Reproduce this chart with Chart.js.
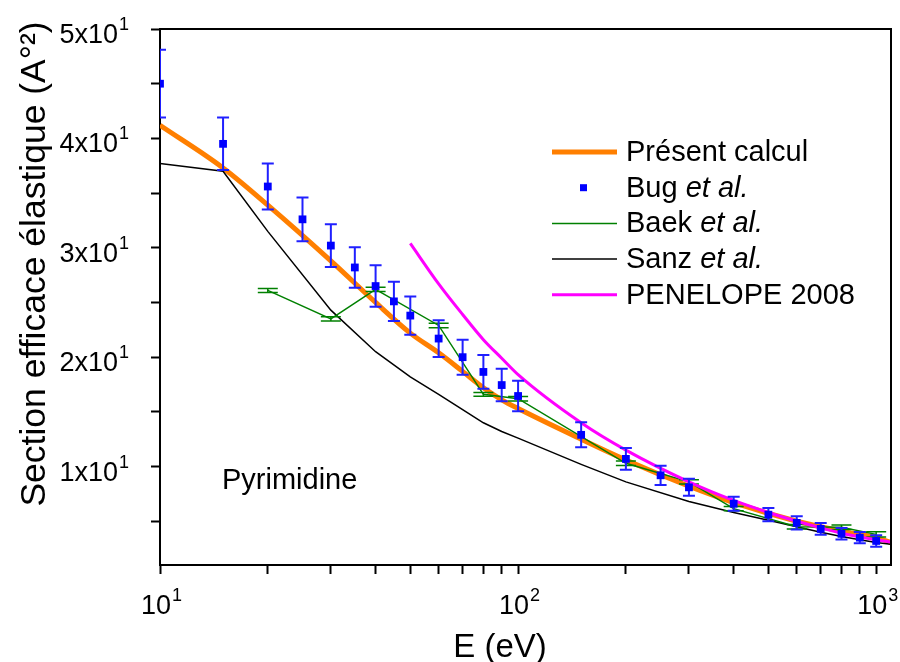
<!DOCTYPE html>
<html>
<head>
<meta charset="utf-8">
<script src="https://cdn.jsdelivr.net/npm/chart.js@4.4.0/dist/chart.umd.min.js"></script>
<style>
  html, body { margin: 0; padding: 0; background: #fff; }
</style>
</head>
<body>
<canvas id="chart" width="900" height="662"></canvas>
<script>
// Bug et al. (points with error bars)
const bugEnergy = [10, 15, 20, 25, 30, 35, 40, 45, 50, 60, 70, 80, 90, 100, 150, 200, 250, 300, 400, 500, 600, 700, 800, 900, 1000];
const bugValues = [45.0, 39.5, 35.6, 32.6, 30.2, 28.2, 26.5, 25.1, 23.8, 21.7, 20.0, 18.65, 17.45, 16.45, 12.9, 10.7, 9.2, 8.1, 6.6, 5.6, 4.85, 4.3, 3.85, 3.5, 3.2];
const bugErrors = [3.1, 2.4, 2.1, 2.0, 1.95, 1.85, 1.9, 1.8, 1.75, 1.68, 1.6, 1.54, 1.48, 1.4, 1.14, 1.0, 0.88, 0.78, 0.64, 0.61, 0.61, 0.53, 0.53, 0.52, 0.53];

// Baek et al.
const baekEnergy = [20, 30, 40, 60, 80, 100, 200, 300, 400, 600, 800, 1000];
const baekValues = [26.1, 23.5, 26.2, 22.9, 16.6, 16.2, 10.3, 8.6, 6.15, 4.5, 4.45, 3.8];
const baekErrors = [0.18, 0.2, 0.2, 0.21, 0.18, 0.2, 0.2, 0.2, 0.2, 0.2, 0.2, 0.25];

// Sanz et al.
const sanzEnergy = [10, 15, 20, 30, 40, 50, 60, 70, 80, 90, 100, 150, 200, 300, 400, 500, 600, 700, 800, 900, 1000, 1100];
const sanzValues = [37.7, 37.0, 31.5, 24.3, 20.5, 18.2, 16.6, 15.2, 14.0, 13.2, 12.6, 10.2, 8.6, 6.8, 5.8, 5.1, 4.5, 4.0, 3.6, 3.3, 3.05, 2.9];

// Présent calcul
const calcEnergy = [10, 15, 20, 30, 40, 50, 60, 70, 80, 90, 100, 150, 200, 300, 400, 600, 800, 1000, 1100];
const calcValues = [41.2, 37.3, 33.9, 28.8, 25.0, 22.2, 20.4, 18.7, 17.2, 16.1, 15.3, 12.5, 10.6, 8.2, 6.7, 5.0, 4.1, 3.5, 3.05];

// PENELOPE 2008
const penEnergy = [50, 60, 70, 80, 90, 100, 150, 200, 300, 400, 500, 600, 700, 800, 1000, 1100];
const penValues = [30.4, 26.7, 23.9, 21.6, 19.9, 18.4, 14.0, 11.5, 8.6, 6.9, 5.8, 5.0, 4.4, 3.9, 3.3, 3.1];

// axes
const xTickValues = [10, 20, 30, 40, 50, 60, 70, 80, 90, 100, 200, 300, 400, 500, 600, 700, 800, 900, 1000];
const xMajorTicks = [10, 100, 1000];
const xLabelBase = ['10', '10', '10'];
const xLabelSup = ['1', '2', '3'];
const yTickValues = [5, 10, 15, 20, 25, 30, 35, 40, 45, 50];
const yMajorTicks = [10, 20, 30, 40, 50];
const yLabelBase = ['1x10', '2x10', '3x10', '4x10', '5x10'];
const yLabelSup = ['1', '1', '1', '1', '1'];

const legendNames = ['Présent calcul', 'Bug ', 'Baek ', 'Sanz ', 'PENELOPE 2008'];
const legendItalic = ['', 'et al.', 'et al.', 'et al.', ''];

const FONT = "'Liberation Sans', Arial, Helvetica, sans-serif";

function toPoints(xs, ys) {
    return xs.map((x, i) => ({x: x, y: ys[i]}));
}

// vertical error bars with caps, drawn under the points of each dataset that has them
const errorBars = {
    id: 'errorBars',
    beforeDatasetDraw(chart, args) {
        const ds = chart.data.datasets[args.index];
        if (!ds.errors) return;
        const {ctx, chartArea, scales} = chart;
        ctx.save();
        ctx.beginPath();
        ctx.rect(chartArea.left, chartArea.top, chartArea.right - chartArea.left, chartArea.bottom - chartArea.top);
        ctx.clip();
        ctx.strokeStyle = ds.errorColor;
        ctx.lineWidth = ds.errorWidth;
        ds.data.forEach((p, i) => {
            const px = scales.x.getPixelForValue(p.x);
            const top = scales.y.getPixelForValue(p.y + ds.errors[i]);
            const bot = scales.y.getPixelForValue(p.y - ds.errors[i]);
            const w = ds.capWidth / 2;
            ctx.beginPath();
            ctx.moveTo(px, top); ctx.lineTo(px, bot);
            ctx.moveTo(px - w, top); ctx.lineTo(px + w, top);
            ctx.moveTo(px - w, bot); ctx.lineTo(px + w, bot);
            ctx.stroke();
        });
        ctx.restore();
    }
};

// base text followed by a raised, smaller exponent
function supText(ctx, base, sup, x, y, align) {
    ctx.font = '27px ' + FONT;
    const wb = ctx.measureText(base).width;
    ctx.font = '18px ' + FONT;
    const ws = ctx.measureText(sup).width;
    let x0 = x;
    if (align === 'center') x0 = x - (wb + ws) / 2;
    if (align === 'right') x0 = x - wb - ws;
    ctx.textAlign = 'left';
    ctx.font = '27px ' + FONT;
    ctx.fillText(base, x0, y);
    ctx.font = '18px ' + FONT;
    ctx.fillText(sup, x0 + wb + 1, y - 13);
}

// frame, tick labels, axis titles, annotation and legend
const decorations = {
    id: 'decorations',
    afterDraw(chart) {
        const {ctx, chartArea, scales} = chart;
        ctx.save();
        ctx.strokeStyle = '#000';
        ctx.lineWidth = 2;
        ctx.beginPath();
        ctx.moveTo(chartArea.left, chartArea.top);
        ctx.lineTo(chartArea.right, chartArea.top);
        ctx.lineTo(chartArea.right, chartArea.bottom);
        ctx.stroke();

        ctx.fillStyle = '#000';
        ctx.textBaseline = 'alphabetic';
        xMajorTicks.forEach((v, i) => {
            supText(ctx, xLabelBase[i], xLabelSup[i], scales.x.getPixelForValue(v) + 1, 614, 'center');
        });
        yMajorTicks.forEach((v, i) => {
            supText(ctx, yLabelBase[i], yLabelSup[i], 128, scales.y.getPixelForValue(v) + 14, 'right');
        });

        ctx.textAlign = 'center';
        ctx.font = '33px ' + FONT;
        ctx.fillText('E (eV)', 500, 657);

        ctx.save();
        ctx.translate(45, 264);
        ctx.rotate(-Math.PI / 2);
        ctx.font = '35.5px ' + FONT;
        ctx.fillText('Section efficace élastique (A°²)', 0, 0);
        ctx.restore();

        ctx.textAlign = 'left';
        ctx.font = '29px ' + FONT;
        ctx.fillText('Pyrimidine', 222, 489);

        // legend
        const ds = chart.data.datasets;
        const rows = [ds[4], ds[0], ds[2], ds[3], ds[1]];
        ctx.textBaseline = 'middle';
        rows.forEach((d, i) => {
            const y = 152 + i * 35.7;
            if (d.showLine === false) {
                ctx.fillStyle = d.backgroundColor;
                ctx.fillRect(580, y - 3.5, 7, 7);
            } else {
                ctx.strokeStyle = d.borderColor;
                ctx.lineWidth = d.borderWidth;
                ctx.beginPath();
                ctx.moveTo(552, y);
                ctx.lineTo(617, y);
                ctx.stroke();
            }
            ctx.fillStyle = '#000';
            ctx.font = '29px ' + FONT;
            ctx.fillText(legendNames[i], 626, y + 1);
            if (legendItalic[i]) {
                const w = ctx.measureText(legendNames[i]).width;
                ctx.font = 'italic 29px ' + FONT;
                ctx.fillText(legendItalic[i], 626 + w, y + 1);
            }
        });
        ctx.restore();
    }
};

const axisGrid = {
    display: true,
    drawOnChartArea: false,
    drawTicks: true,
    tickLength: 9,
    tickWidth: 2,
    tickColor: '#000'
};

function clearPadding(scale) {
    scale.paddingTop = 0;
    scale.paddingBottom = 0;
    scale.paddingLeft = 0;
    scale.paddingRight = 0;
}

new Chart(document.getElementById('chart'), {
    type: 'scatter',
    data: {
        datasets: [
            {
                label: 'Bug et al.',
                data: toPoints(bugEnergy, bugValues),
                errors: bugErrors,
                errorColor: '#2020ff',
                errorWidth: 2,
                capWidth: 12,
                showLine: false,
                pointStyle: 'rect',
                pointRadius: 5.5,
                backgroundColor: '#0000ff',
                borderColor: '#0000ff',
                borderWidth: 0,
                order: 1
            },
            {
                label: 'PENELOPE 2008',
                data: toPoints(penEnergy, penValues),
                showLine: true,
                pointRadius: 0,
                borderColor: '#ff00ff',
                borderWidth: 3,
                cubicInterpolationMode: 'monotone',
                order: 2
            },
            {
                label: 'Baek et al.',
                data: toPoints(baekEnergy, baekValues),
                errors: baekErrors,
                errorColor: '#008000',
                errorWidth: 1.5,
                capWidth: 20,
                showLine: true,
                pointRadius: 0,
                borderColor: '#008000',
                borderWidth: 1.5,
                order: 3
            },
            {
                label: 'Sanz et al.',
                data: toPoints(sanzEnergy, sanzValues),
                showLine: true,
                pointRadius: 0,
                borderColor: '#000000',
                borderWidth: 1.5,
                order: 4
            },
            {
                label: 'Présent calcul',
                data: toPoints(calcEnergy, calcValues),
                showLine: true,
                pointRadius: 0,
                borderColor: '#ff7f00',
                borderWidth: 5,
                cubicInterpolationMode: 'monotone',
                order: 5
            }
        ]
    },
    options: {
        responsive: false,
        animation: false,
        layout: {padding: {left: 0, top: 29, right: 9, bottom: 0}},
        plugins: {
            legend: {display: false},
            tooltip: {enabled: false}
        },
        scales: {
            x: {
                type: 'logarithmic',
                min: 10,
                max: 1100,
                afterFit(scale) { scale.height = 97; clearPadding(scale); },
                afterBuildTicks(scale) { scale.ticks = xTickValues.map(v => ({value: v})); },
                ticks: {display: false, autoSkip: false},
                grid: axisGrid,
                border: {display: true, color: '#000', width: 2}
            },
            y: {
                type: 'linear',
                min: 1,
                max: 50,
                afterFit(scale) { scale.width = 160; clearPadding(scale); },
                afterBuildTicks(scale) { scale.ticks = yTickValues.map(v => ({value: v})); },
                ticks: {display: false, autoSkip: false},
                grid: axisGrid,
                border: {display: true, color: '#000', width: 2}
            }
        }
    },
    plugins: [errorBars, decorations]
});
</script>
</body>
</html>
